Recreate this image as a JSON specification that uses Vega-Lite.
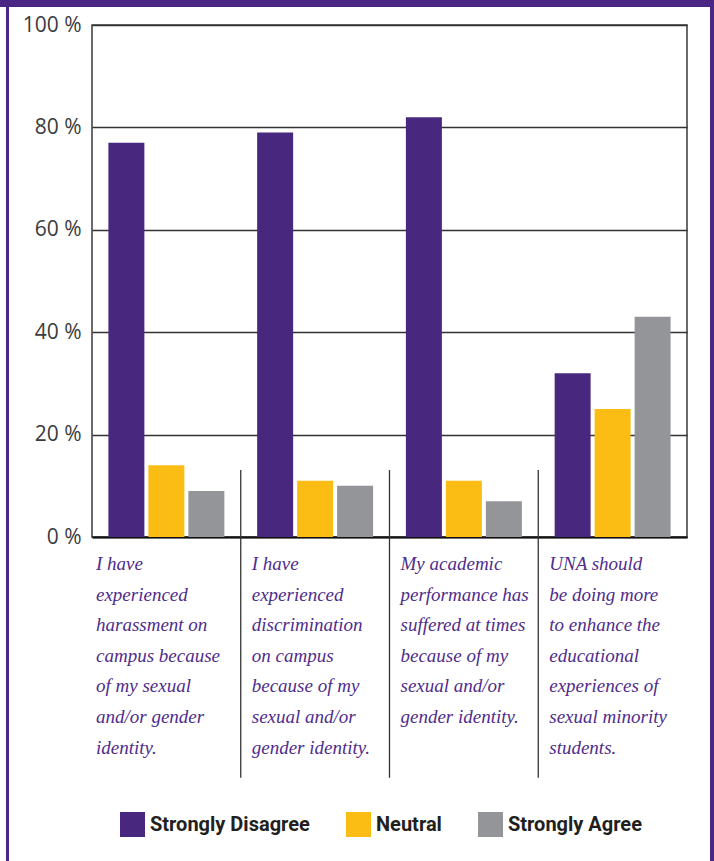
{
  "$schema": "https://vega.github.io/schema/vega-lite/v6.json",
  "autosize": "none",
  "width": 595,
  "height": 512,
  "padding": {"left": 92, "top": 25, "right": 27, "bottom": 324},
  "background": "white",
  "datasets": {
    "bars": [
      {"question": "I have\nexperienced\nharassment on\ncampus because\nof my sexual\nand/or gender\nidentity.", "response": "Strongly Disagree", "percent": 77},
      {"question": "I have\nexperienced\nharassment on\ncampus because\nof my sexual\nand/or gender\nidentity.", "response": "Neutral", "percent": 14},
      {"question": "I have\nexperienced\nharassment on\ncampus because\nof my sexual\nand/or gender\nidentity.", "response": "Strongly Agree", "percent": 9},
      {"question": "I have\nexperienced\ndiscrimination\non campus\nbecause of my\nsexual and/or\ngender identity.", "response": "Strongly Disagree", "percent": 79},
      {"question": "I have\nexperienced\ndiscrimination\non campus\nbecause of my\nsexual and/or\ngender identity.", "response": "Neutral", "percent": 11},
      {"question": "I have\nexperienced\ndiscrimination\non campus\nbecause of my\nsexual and/or\ngender identity.", "response": "Strongly Agree", "percent": 10},
      {"question": "My academic\nperformance has\nsuffered at times\nbecause of my\nsexual and/or\ngender identity.", "response": "Strongly Disagree", "percent": 82},
      {"question": "My academic\nperformance has\nsuffered at times\nbecause of my\nsexual and/or\ngender identity.", "response": "Neutral", "percent": 11},
      {"question": "My academic\nperformance has\nsuffered at times\nbecause of my\nsexual and/or\ngender identity.", "response": "Strongly Agree", "percent": 7},
      {"question": "UNA should\nbe doing more\nto enhance the\neducational\nexperiences of\nsexual minority\nstudents.", "response": "Strongly Disagree", "percent": 32},
      {"question": "UNA should\nbe doing more\nto enhance the\neducational\nexperiences of\nsexual minority\nstudents.", "response": "Neutral", "percent": 25},
      {"question": "UNA should\nbe doing more\nto enhance the\neducational\nexperiences of\nsexual minority\nstudents.", "response": "Strongly Agree", "percent": 43}
    ],
    "questions": [
      {"n": 1, "question": "I have\nexperienced\nharassment on\ncampus because\nof my sexual\nand/or gender\nidentity."},
      {"n": 2, "question": "I have\nexperienced\ndiscrimination\non campus\nbecause of my\nsexual and/or\ngender identity."},
      {"n": 3, "question": "My academic\nperformance has\nsuffered at times\nbecause of my\nsexual and/or\ngender identity."},
      {"n": 4, "question": "UNA should\nbe doing more\nto enhance the\neducational\nexperiences of\nsexual minority\nstudents."}
    ]
  },
  "layer": [
    {
      "data": {"values": [{}]},
      "mark": {"type": "rect", "color": "#4a2784", "clip": false},
      "encoding": {"x": {"value": -86}, "x2": {"value": -83}, "y": {"value": -25}, "y2": {"value": 836}}
    },
    {
      "data": {"values": [{}]},
      "mark": {"type": "rect", "color": "#4a2784", "clip": false},
      "encoding": {"x": {"value": 618}, "x2": {"value": 622}, "y": {"value": -25}, "y2": {"value": 836}}
    },
    {
      "data": {"values": [{}]},
      "mark": {"type": "rect", "color": "#4a2784", "clip": false},
      "encoding": {"x": {"value": -92}, "x2": {"value": 622}, "y": {"value": -25}, "y2": {"value": -18}}
    },
    {
      "data": {"name": "bars"},
      "mark": {"type": "bar"},
      "encoding": {
        "x": {
          "field": "question", "type": "nominal",
          "scale": {"domain": [
            "I have\nexperienced\nharassment on\ncampus because\nof my sexual\nand/or gender\nidentity.",
            "I have\nexperienced\ndiscrimination\non campus\nbecause of my\nsexual and/or\ngender identity.",
            "My academic\nperformance has\nsuffered at times\nbecause of my\nsexual and/or\ngender identity.",
            "UNA should\nbe doing more\nto enhance the\neducational\nexperiences of\nsexual minority\nstudents."
          ], "paddingInner": 0, "paddingOuter": 0},
          "axis": {"title": null, "labels": false, "ticks": false, "domain": true, "domainColor": "#111", "domainWidth": 2, "grid": false}
        },
        "xOffset": {
          "field": "response", "type": "nominal",
          "scale": {"domain": ["Strongly Disagree", "Neutral", "Strongly Agree"], "paddingInner": 0.1, "paddingOuter": 0.41}
        },
        "y": {
          "field": "percent", "type": "quantitative",
          "scale": {"domain": [0, 100], "nice": false, "zero": true},
          "axis": {
            "title": null, "values": [0, 20, 40, 60, 80, 100],
            "labelExpr": "datum.value + ' %'",
            "ticks": false, "domain": false, "labelPadding": 11,
            "labelFont": "Open Sans", "labelFontSize": 21, "labelColor": "#3b3b3b",
            "labelBaseline": "middle", "labelDy": 4,
            "grid": true, "gridColor": "#333333", "gridWidth": 1.3, "gridOpacity": 1
          }
        },
        "color": {
          "field": "response", "type": "nominal",
          "scale": {"domain": ["Strongly Disagree", "Neutral", "Strongly Agree"], "range": ["#48277f", "#fbbd13", "#939598"]},
          "legend": {
            "title": null, "orient": "none", "direction": "horizontal",
            "legendX": 28, "legendY": 787,
            "symbolType": "square", "symbolSize": 625, "symbolStrokeWidth": 0, "symbolOpacity": 1,
            "labelFont": "Roboto", "labelFontWeight": "bold", "labelFontSize": 20, "labelLimit": 400,
            "labelColor": "#231f20", "labelOffset": 5, "columnPadding": 36, "padding": 0
          }
        }
      }
    },
    {
      "data": {"name": "questions"},
      "transform": [{"filter": "datum.n < 4"}],
      "mark": {"type": "rule", "color": "#333333", "strokeWidth": 1.3, "clip": false},
      "encoding": {
        "x": {"field": "question", "type": "nominal", "bandPosition": 1},
        "y": {"datum": 13.1, "type": "quantitative", "scale": {"domain": [0, 100]}},
        "y2": {"datum": -47}
      }
    },
    {
      "data": {"name": "questions"},
      "transform": [{"filter": "datum.n == 1"}],
      "mark": {"type": "text", "align": "left", "baseline": "top", "dx": 4, "lineBreak": "\n", "lineHeight": 30.6, "font": "Liberation Serif", "fontStyle": "italic", "fontSize": 19, "color": "#4f2d8c", "clip": false},
      "encoding": {
        "x": {"field": "question", "type": "nominal", "bandPosition": 0},
        "y": {"datum": -3.5, "type": "quantitative", "scale": {"domain": [0, 100]}},
        "text": {"field": "question"}
      }
    },
    {
      "data": {"name": "questions"},
      "transform": [{"filter": "datum.n > 1"}],
      "mark": {"type": "text", "align": "left", "baseline": "top", "dx": 11, "lineBreak": "\n", "lineHeight": 30.6, "font": "Liberation Serif", "fontStyle": "italic", "fontSize": 19, "color": "#4f2d8c", "clip": false},
      "encoding": {
        "x": {"field": "question", "type": "nominal", "bandPosition": 0},
        "y": {"datum": -3.5, "type": "quantitative", "scale": {"domain": [0, 100]}},
        "text": {"field": "question"}
      }
    }
  ],
  "config": {
    "view": {"stroke": "#3a3a3a", "strokeWidth": 1.5}
  }
}
